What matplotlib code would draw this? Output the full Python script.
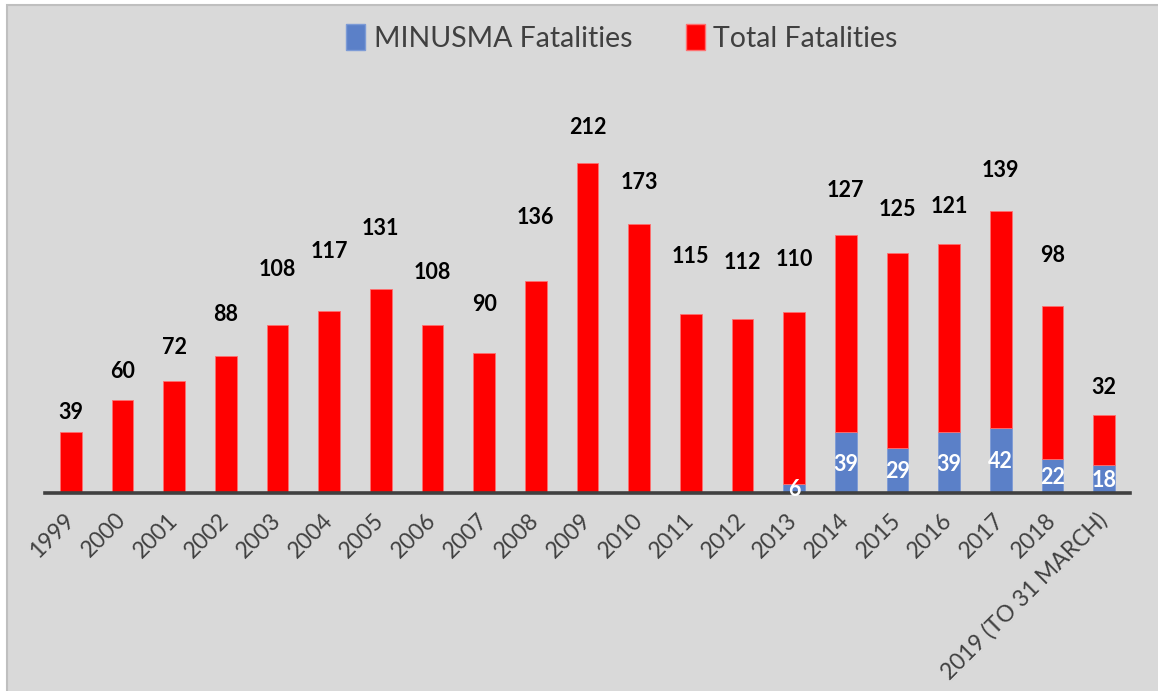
import matplotlib
matplotlib.use('Agg')
import matplotlib.pyplot as plt
import matplotlib.transforms as mtransforms
from matplotlib.patches import Patch, Rectangle

# ---- data ----
years = ['1999', '2000', '2001', '2002', '2003', '2004', '2005', '2006', '2007',
         '2008', '2009', '2010', '2011', '2012', '2013', '2014', '2015', '2016',
         '2017', '2018', '2019 (TO 31 MARCH)']
minusma = [0, 0, 0, 0, 0, 0, 0, 0, 0, 0, 0, 0, 0, 0, 6, 39, 29, 39, 42, 22, 18]
total = [39, 60, 72, 88, 108, 117, 131, 108, 90, 136, 212, 173, 115, 112, 110,
         127, 125, 121, 139, 98, 32]

# ---- layout (label gap above bar top, pixels) ----
label_gap_px = [20, 27.6, 33.7, 41.7, 55.3, 59.3, 60.3, 52.6, 48.3, 63.4, 35,
                41.6, 57.6, 55.7, 53.3, 44.3, 43.3, 37.3, 41, 51, 27.4]

FONT = 'Lato'
RED = '#ff0000'
BLUE = '#5b80c8'
W, H = 1158, 691

fig = plt.figure(figsize=(W / 100, H / 100), dpi=100, facecolor='white')
bg = Rectangle((7.5 / W, -0.02), 1.1, 1 - 4.5 / H + 0.02, transform=fig.transFigure,
               facecolor='#d9d9d9', edgecolor='#bfbfbf', linewidth=1.5, zorder=-10)
fig.patches.append(bg)

ax_bottom = (H - 493) / H
ymax = 240
px_per_unit = 1.557
ax_height = ymax * px_per_unit / H
ax = fig.add_axes([45 / W, ax_bottom, 1085 / W, ax_height])
ax.set_zorder(5)
ax.set_facecolor('none')

x = list(range(len(years)))
ax.bar(x, minusma, width=0.42, color=BLUE, edgecolor='#7d9bd6', linewidth=0.6, zorder=2)
ax.bar(x, total, width=0.42, bottom=minusma, color=RED, edgecolor='#ff7070',
       linewidth=0.6, zorder=2)

ax.set_xlim(-0.5, len(years) - 0.5)
ax.set_ylim(0, ymax)

shift_down = mtransforms.ScaledTranslation(0, -1.5 / 100, fig.dpi_scale_trans)
for i in x:
    top = minusma[i] + total[i]
    ax.annotate(str(total[i]), xy=(i, top), xytext=(0, label_gap_px[i] * 0.72),
                textcoords='offset points', ha='center', va='center',
                fontsize=15.5, fontweight='bold', family=FONT, color='black', zorder=4)
    if minusma[i] > 0:
        ax.text(i, minusma[i] / 2, str(minusma[i]), ha='center', va='center',
                fontsize=15.5, fontweight='bold', family=FONT, color='white', zorder=4,
                transform=ax.transData + shift_down)

for s in ['left', 'top', 'right']:
    ax.spines[s].set_visible(False)
ax.spines['bottom'].set_color('#404040')
ax.spines['bottom'].set_linewidth(2.6)
ax.spines['bottom'].set_zorder(3)
ax.set_yticks([])
ax.set_xticks(x)
ax.set_xticklabels(years, rotation=45, ha='right', va='center', rotation_mode='anchor',
                   fontsize=16.5, color='#404040', family=FONT)
ax.tick_params(axis='x', length=0, pad=17)

handles = [Patch(facecolor=BLUE, edgecolor='#7d9bd6', label='MINUSMA Fatalities'),
           Patch(facecolor=RED, edgecolor='#ff7070', label='Total Fatalities')]
leg = fig.legend(handles=handles, loc='center', bbox_to_anchor=(622 / W, 1 - 38 / H),
                 ncol=2, frameon=False, handlelength=0.65, handleheight=1.0,
                 handletextpad=0.3, columnspacing=1.9,
                 prop={'family': FONT, 'size': 20.5})
for t in leg.get_texts():
    t.set_color('#404040')

fig.savefig('out.png', dpi=100, facecolor='white')
